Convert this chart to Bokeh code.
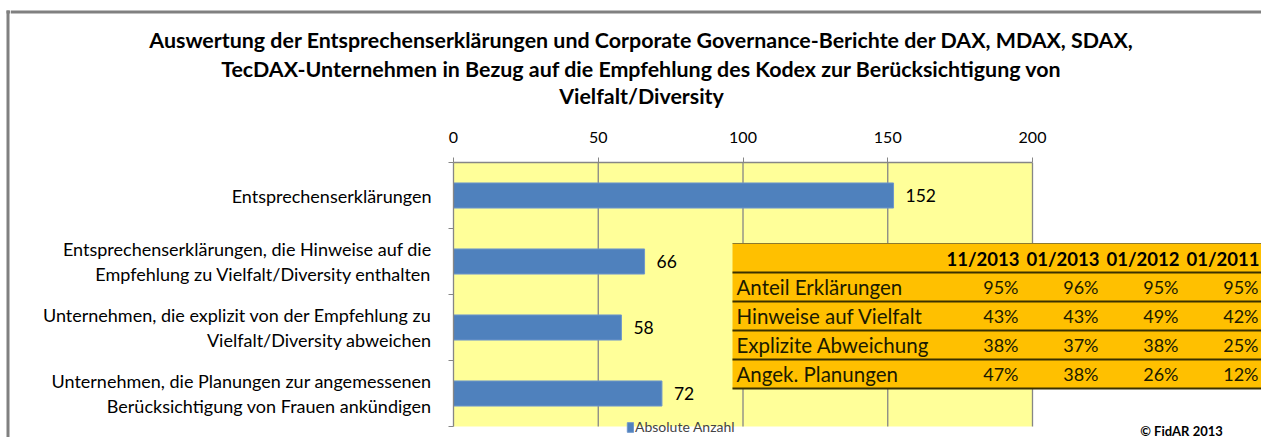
from bokeh.plotting import figure
from bokeh.layouts import row, column
from bokeh.models import Range1d, FixedTicker, Legend, LegendItem, ColumnDataSource
from bokeh.embed import file_html
from bokeh.resources import INLINE
from bokeh.core.properties import value

# ---------------- data ----------------
title_lines = [
    "Auswertung der Entsprechenserklärungen und Corporate Governance-Berichte der DAX, MDAX, SDAX,",
    "TecDAX-Unternehmen in Bezug auf die Empfehlung des Kodex zur Berücksichtigung von",
    "Vielfalt/Diversity",
]
categories = [
    "Entsprechenserklärungen",
    "Entsprechenserklärungen, die Hinweise auf die\nEmpfehlung zu Vielfalt/Diversity enthalten",
    "Unternehmen, die explizit von der Empfehlung zu\nVielfalt/Diversity abweichen",
    "Unternehmen, die Planungen zur angemessenen\nBerücksichtigung von Frauen ankündigen",
]
counts = [152, 66, 58, 72]
x_ticks = [0, 50, 100, 150, 200]
series_name = "Absolute Anzahl"

table_header = ["11/2013", "01/2013", "01/2012", "01/2011"]
table_rows = ["Anteil Erklärungen", "Hinweise auf Vielfalt", "Explizite Abweichung", "Angek. Planungen"]
pct_11_2013 = [95, 43, 38, 47]
pct_01_2013 = [96, 43, 37, 38]
pct_01_2012 = [95, 49, 38, 26]
pct_01_2011 = [95, 42, 25, 12]
table_values = [pct_11_2013, pct_01_2013, pct_01_2012, pct_01_2011]
copyright_text = "© FidAR 2013"

# ---------------- layout geometry (pixels) ----------------
W, H = 1261, 437
STRIP_W = 10          # left strip holding the grey chart-area border
TITLE_H = 112         # height of the title band
CH_W, CH_H = W - STRIP_W, H - TITLE_H
PLOT_L, PLOT_T = 453, 162          # plot-area corner on the page
PX_PER_X = 579 / 200.0
PX_PER_Y = 66.0
X_MAX = (W - PLOT_L) / PX_PER_X
Y_MAX = 0.5 + (H - PLOT_T) / PX_PER_Y
BORDER = "#808080"
FONT = "Lato"
GRID = "#868686"


def xr(px):
    return (px - PLOT_L) / PX_PER_X


def yr(py):
    return 0.5 + (py - PLOT_T) / PX_PER_Y


def blank(width, height, x0, y0):
    f = figure(width=width, height=height, output_backend="svg", toolbar_location=None,
               title=None, x_axis_type=None, y_axis_type=None,
               x_range=Range1d(x0, x0 + width), y_range=Range1d(y0 + height, y0),
               min_border=0, min_border_left=0, min_border_right=0,
               min_border_top=0, min_border_bottom=0)
    f.outline_line_color = None
    f.background_fill_color = "white"
    f.border_fill_color = "white"
    return f


# ---- left strip: grey border ----
strip = blank(STRIP_W, H, 0, 0)
strip.quad(left=6, right=9, top=10, bottom=H, fill_color=BORDER, line_color=None)
strip.quad(left=6, right=STRIP_W, top=10, bottom=13, fill_color=BORDER, line_color=None)

# ---- title band ----
tfig = blank(CH_W, TITLE_H, STRIP_W, 0)
tfig.quad(left=STRIP_W, right=W, top=10, bottom=13, fill_color=BORDER, line_color=None)
tfig.text(x=[641] * len(title_lines), y=[39, 68, 95], text=title_lines,
          text_align="center", text_baseline="middle", text_font=value(FONT),
          text_font_style="bold", text_font_size="21.4px", text_color="#000000")

# ---- chart ----
positions = list(range(1, len(categories) + 1))
bounds = [pp - 0.5 for pp in positions] + [positions[-1] + 0.5]

p = figure(width=CH_W, height=CH_H, output_backend="svg", toolbar_location=None,
           title=None, x_range=Range1d(0, X_MAX), y_range=Range1d(Y_MAX, 0.5),
           x_axis_location="above",
           min_border_left=PLOT_L - STRIP_W, min_border_top=PLOT_T - TITLE_H,
           min_border_right=0, min_border_bottom=0)
p.outline_line_color = None
p.background_fill_color = "white"
p.border_fill_color = "white"
p.xgrid.visible = False
p.ygrid.visible = False

p.quad(left=x_ticks[0], right=x_ticks[-1], top=bounds[0], bottom=bounds[-1],
       fill_color="#FFFF99", line_color=None, level="image")
p.segment(x0=x_ticks[1:], x1=x_ticks[1:], y0=[bounds[0]] * (len(x_ticks) - 1),
          y1=[bounds[-1]] * (len(x_ticks) - 1), line_color=GRID, line_width=1.3,
          level="underlay")

xa = p.xaxis[0]
xa.ticker = FixedTicker(ticks=x_ticks)
xa.bounds = (x_ticks[0], x_ticks[-1])
xa.axis_line_color = GRID
xa.axis_line_width = 1.3
xa.major_tick_line_color = GRID
xa.major_tick_out = 5
xa.major_tick_in = 0
xa.minor_tick_line_color = None
xa.major_label_text_font = FONT
xa.major_label_text_font_size = "16px"
xa.major_label_text_color = "#000000"
xa.major_label_standoff = 15

ya = p.yaxis[0]
ya.ticker = FixedTicker(ticks=positions, minor_ticks=bounds)
ya.bounds = (bounds[0], bounds[-1])
ya.axis_line_color = GRID
ya.axis_line_width = 1.3
ya.major_tick_out = 0
ya.major_tick_in = 0
ya.major_tick_line_color = None
ya.minor_tick_out = 5
ya.minor_tick_in = 0
ya.minor_tick_line_color = GRID
ya.major_label_overrides = {pos: lab for pos, lab in zip(positions, categories)}
ya.major_label_text_font = FONT
ya.major_label_text_font_size = "18px"
ya.major_label_text_color = "#000000"
ya.major_label_text_line_height = 1.1
ya.major_label_standoff = 17

src = ColumnDataSource(dict(y=positions, right=counts, label=[str(c) for c in counts]))
bars = p.hbar(y="y", left=0, right="right", height=0.38, source=src,
              fill_color="#4F81BD", line_color="#6F97CB", line_width=1)
p.text(x="right", y="y", text="label", source=src, x_offset=12,
       text_baseline="middle", text_align="left", text_font=value(FONT),
       text_font_size="17.5px", text_color="#000000")

legend = Legend(items=[LegendItem(label=series_name, renderers=[bars])],
                location=(173, 2), margin=0, padding=0, spacing=0,
                glyph_width=8, glyph_height=12, label_height=12, label_standoff=1,
                label_text_font=FONT, label_text_font_size="14px",
                background_fill_alpha=0, border_line_alpha=0)
p.add_layout(legend)

# ---- inset table ----
TBL_L, TBL_R, TBL_T = 732, 1265, 243
HEAD_B, ROW_H = 272, 29
COL_R = [1019, 1099, 1179, 1259]
n_rows = len(table_rows)
tbl_b = HEAD_B + ROW_H * n_rows
p.quad(left=xr(TBL_L), right=xr(TBL_R), top=yr(TBL_T), bottom=yr(tbl_b),
       fill_color="#FFC000", line_color=None)
sep = [HEAD_B + ROW_H * i for i in range(n_rows + 1)]
p.segment(x0=[xr(TBL_L)] * len(sep), x1=[xr(TBL_R)] * len(sep),
          y0=[yr(s) for s in sep], y1=[yr(s) for s in sep],
          line_color="#3A3000", line_width=2)
p.segment(x0=[xr(TBL_L)], x1=[xr(TBL_R)], y0=[yr(TBL_T)], y1=[yr(TBL_T)],
          line_color="#8C7A30", line_width=1)

head_y = (TBL_T + HEAD_B) / 2.0 + 1
p.text(x=[xr(c) for c in COL_R], y=[yr(head_y)] * len(COL_R), text=table_header,
       text_align="right", text_baseline="middle", text_font=value(FONT),
       text_font_style="bold", text_font_size="18.5px", text_color="#000000")
row_y = [HEAD_B + ROW_H * (i + 0.5) for i in range(n_rows)]
p.text(x=[xr(TBL_L + 4)] * n_rows, y=[yr(v) for v in row_y], text=table_rows,
       text_align="left", text_baseline="middle", text_font=value(FONT),
       text_font_size="20.5px", text_color="#1A1A00")
cx, cy, ct = [], [], []
for j, col in enumerate(table_values):
    for i, v in enumerate(col):
        cx.append(xr(COL_R[j] - 1))
        cy.append(yr(row_y[i]))
        ct.append(f"{v}%")
p.text(x=cx, y=cy, text=ct, text_align="right", text_baseline="middle",
       text_font=value(FONT), text_font_size="18px", text_color="#1A1A00")

p.text(x=[xr(1181)], y=[yr(430)], text=[copyright_text], text_align="center",
       text_baseline="middle", text_font=value(FONT), text_font_style="bold",
       text_font_size="13px", text_color="#000000")

layout = row(strip, column(row(tfig), p))
open("out.html", "w").write(file_html(layout, INLINE))
